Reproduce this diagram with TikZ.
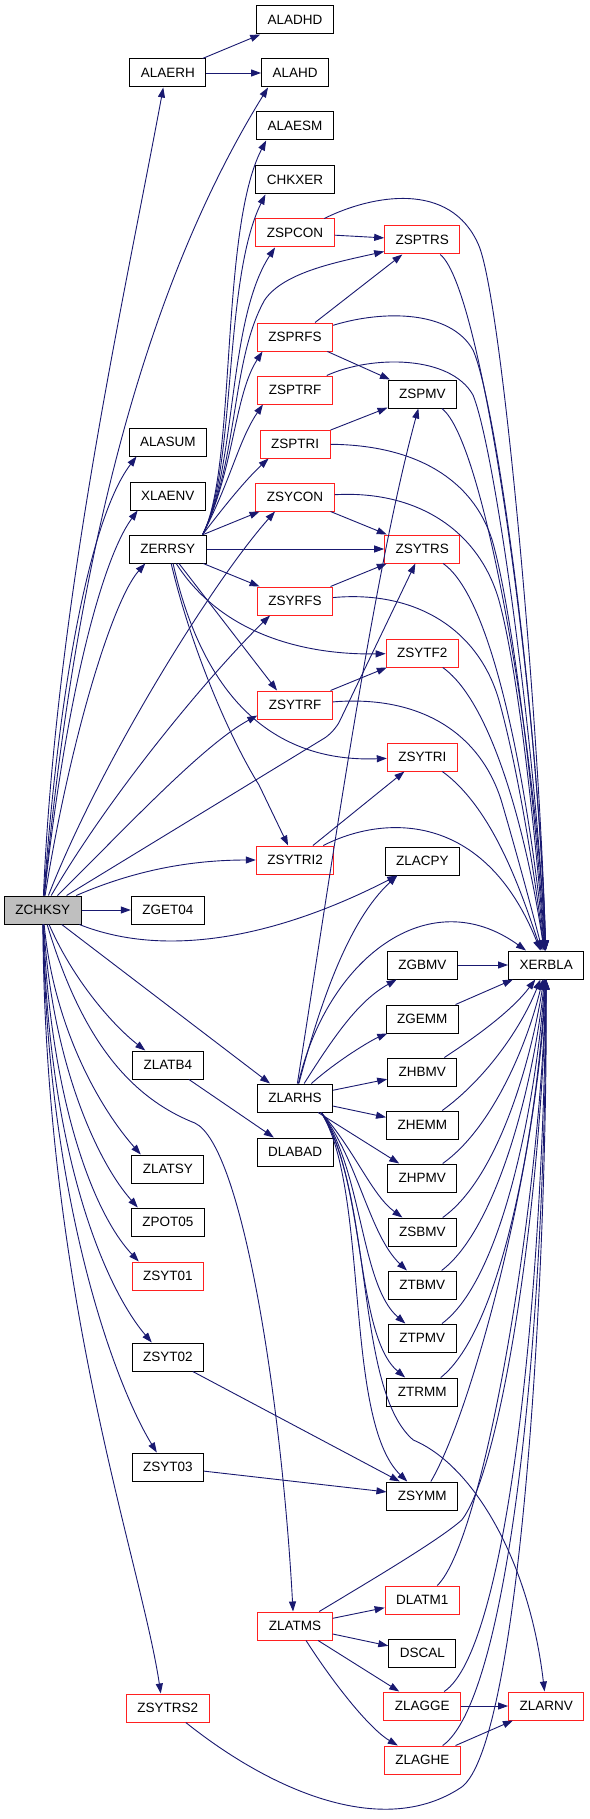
\documentclass[tikz,border=0pt]{standalone}
\usepackage{fontspec}
\setmainfont{Liberation Sans}
\usetikzlibrary{arrows.meta}
\definecolor{edgec}{HTML}{191970}
\definecolor{rootfill}{HTML}{BFBFBF}
\definecolor{boxred}{HTML}{FF2020}
\begin{document}
\begin{tikzpicture}[x=1.12613pt,y=-1pt,
  box/.style={draw=black, fill=white, line width=1pt, minimum height=28pt,
    inner xsep=11pt, inner ysep=0pt, font=\fontsize{13.5}{14}\selectfont, text=black},
  rbox/.style={box, draw=boxred},
  arr/.style={draw=edgec, line width=0.9pt, -{Triangle[length=10pt,width=7pt]}}]
\useasboundingbox (0,0) rectangle (523.03,1819);
\fill[white] (0,0) rectangle (523.03,1819);

% nodes
\node[box] (ALADHD) at (262,20) {ALADHD};
\node[box] (ALAERH) at (149,73) {ALAERH};
\node[box] (ALAHD) at (262,73) {ALAHD};
\node[box] (ALAESM) at (262,126) {ALAESM};
\node[box] (CHKXER) at (262,180) {CHKXER};
\node[rbox] (ZSPCON) at (262,233) {ZSPCON};
\node[rbox] (ZSPTRS) at (375,240) {ZSPTRS};
\node[rbox] (ZSPRFS) at (262,337) {ZSPRFS};
\node[rbox] (ZSPTRF) at (262,390) {ZSPTRF};
\node[box] (ZSPMV) at (375,394) {ZSPMV};
\node[rbox] (ZSPTRI) at (262,444) {ZSPTRI};
\node[box] (ALASUM) at (149,442) {ALASUM};
\node[box] (XLAENV) at (149,496) {XLAENV};
\node[rbox] (ZSYCON) at (262,497) {ZSYCON};
\node[box] (ZERRSY) at (149,549) {ZERRSY};
\node[rbox] (ZSYTRS) at (375,549) {ZSYTRS};
\node[rbox] (ZSYRFS) at (262,601) {ZSYRFS};
\node[rbox] (ZSYTF2) at (375,653) {ZSYTF2};
\node[rbox] (ZSYTRF) at (262,705) {ZSYTRF};
\node[rbox] (ZSYTRI) at (375,757) {ZSYTRI};
\node[rbox] (ZSYTRI2) at (262,860) {ZSYTRI2};
\node[box] (ZLACPY) at (375,861) {ZLACPY};
\node[box, fill=rootfill] (ZCHKSY) at (38,910) {ZCHKSY};
\node[box] (ZGET04) at (149,910) {ZGET04};
\node[box] (XERBLA) at (485,965) {XERBLA};
\node[box] (ZGBMV) at (375,965) {ZGBMV};
\node[box] (ZGEMM) at (375,1019) {ZGEMM};
\node[box] (ZLATB4) at (149,1065) {ZLATB4};
\node[box] (ZHBMV) at (375,1072) {ZHBMV};
\node[box] (ZLARHS) at (262,1098) {ZLARHS};
\node[box] (ZHEMM) at (375,1125) {ZHEMM};
\node[box] (DLABAD) at (262,1152) {DLABAD};
\node[box] (ZLATSY) at (149,1169) {ZLATSY};
\node[box] (ZHPMV) at (375,1178) {ZHPMV};
\node[box] (ZPOT05) at (149,1222) {ZPOT05};
\node[box] (ZSBMV) at (375,1232) {ZSBMV};
\node[rbox] (ZSYT01) at (149,1276) {ZSYT01};
\node[box] (ZTBMV) at (375,1285) {ZTBMV};
\node[box] (ZTPMV) at (375,1338) {ZTPMV};
\node[box] (ZSYT02) at (149,1357) {ZSYT02};
\node[box] (ZTRMM) at (375,1392) {ZTRMM};
\node[box] (ZSYT03) at (149,1467) {ZSYT03};
\node[box] (ZSYMM) at (375,1496) {ZSYMM};
\node[rbox] (DLATM1) at (375,1600) {DLATM1};
\node[rbox] (ZLATMS) at (262,1626) {ZLATMS};
\node[box] (DSCAL) at (375,1653) {DSCAL};
\node[rbox] (ZLAGGE) at (375,1706) {ZLAGGE};
\node[rbox] (ZLARNV) at (485,1706) {ZLARNV};
\node[rbox] (ZSYTRS2) at (149,1708) {ZSYTRS2};
\node[rbox] (ZLAGHE) at (375,1760) {ZLAGHE};

\coordinate (ERup) at ([xshift=-4pt]ZERRSY.north east);
\coordinate (LRdn) at ([xshift=-12pt]ZLARHS.south east);

% ALAERH
\draw[arr] (ALAERH) -- (ALADHD);
\draw[arr] (ALAERH) -- (ALAHD);

% ZCHKSY
\draw[arr] (ZCHKSY) .. controls (50,600) and (110,300) .. ([xshift=-4.5pt]ALAERH.south);
\draw[arr] (ZCHKSY) .. controls (60,650) and (105,330) .. ([xshift=7pt]ALAHD.south west);
\draw[arr] (ZCHKSY) .. controls (55,650) and (85,510) .. ([xshift=8pt]ALASUM.south west);
\draw[arr] (ZCHKSY) .. controls (58,700) and (90,560) .. ([xshift=8pt]XLAENV.south west);
\draw[arr] (ZCHKSY) .. controls (62,740) and (100,600) .. ([xshift=-22.5pt]ZERRSY.south);
\draw[arr] (ZCHKSY) .. controls (90,760) and (190,580) .. ([xshift=-20pt]ZSYCON.south);
\draw[arr] (ZCHKSY) .. controls (100,790) and (190,670) .. ([xshift=-25pt]ZSYRFS.south);
\draw[arr] (ZCHKSY) .. controls (110,830) and (180,745) .. ([yshift=4pt]ZSYTRF.south west);
\draw[arr, rounded corners=12pt] (ZCHKSY) -- (297,732) -- (ZSYTRS);
\draw[arr] (ZCHKSY) .. controls (120,870) and (170,860) .. (ZSYTRI2);
\draw[arr] (ZCHKSY) -- (ZGET04);
\draw[arr] (ZCHKSY) .. controls (150,960) and (250,935) .. ([xshift=-25pt]ZLACPY.south);
\draw[arr] (ZCHKSY) -- ([xshift=-25pt]ZLARHS.north);
\draw[arr] (ZCHKSY) .. controls (65,980) and (100,1025) .. ([xshift=-22.5pt]ZLATB4.north);
\draw[arr] (ZCHKSY) .. controls (48,1030) and (90,1110) .. ([xshift=-27pt]ZLATSY.north);
\draw[arr] (ZCHKSY) .. controls (46,1060) and (85,1160) .. ([xshift=-30pt]ZPOT05.north);
\draw[arr] (ZCHKSY) .. controls (44,1090) and (80,1210) .. ([xshift=-29pt]ZSYT01.north);
\draw[arr] (ZCHKSY) .. controls (43,1160) and (95,1290) .. ([xshift=-16pt]ZSYT02.north);
\draw[arr] (ZCHKSY) .. controls (42,1210) and (105,1390) .. ([xshift=-11pt]ZSYT03.north);
\draw[arr] (ZCHKSY) .. controls (40,1300) and (125,1560) .. ([xshift=-7pt]ZSYTRS2.north);
\draw[arr] (ZCHKSY) .. controls (70,1030) and (110,1095) .. (173,1123)
  .. controls (215,1145) and (250,1400) .. ([xshift=-2pt]ZLATMS.north);

% ZERRSY
\draw[arr] (ERup) .. controls (210,470) and (195,230) .. ([xshift=10pt]ALAESM.south west);
\draw[arr] (ERup) .. controls (210,470) and (198,280) .. ([xshift=10pt]CHKXER.south west);
\draw[arr] (ERup) .. controls (210,470) and (202,320) .. ([xshift=-20pt]ZSPCON.south);
\draw[arr] (ERup) .. controls (212,460) and (205,360) .. (235,300)
  .. controls (252,272) and (300,262) .. ([yshift=3pt]ZSPTRS.south west);
\draw[arr] (ERup) .. controls (208,470) and (208,395) .. ([xshift=5.6pt]ZSPRFS.south west);
\draw[arr] (ERup) .. controls (205,480) and (212,440) .. ([xshift=5.6pt]ZSPTRF.south west);
\draw[arr] (ERup) .. controls (200,505) and (218,480) .. ([xshift=9pt]ZSPTRI.south west);
\draw[arr] (ZERRSY) -- (ZSYCON);
\draw[arr] (ZERRSY) -- (ZSYTRS);
\draw[arr] (ZERRSY) -- (ZSYRFS);
\draw[arr] (ZERRSY.-60) .. controls (200,640) and (280,655) .. (ZSYTF2);
\draw[arr] (ZERRSY) -- ([xshift=-18pt]ZSYTRF.north);
\draw[arr] (ZERRSY.-70) .. controls (185,720) and (260,762) .. (ZSYTRI);
\draw[arr] (ZERRSY) .. controls (170,650) and (205,740) .. (230,785) -- (ZSYTRI2);

% SP family
\draw[arr] (ZSPCON) -- (ZSPTRS);
\draw[arr] (ZSPCON) .. controls (330,195) and (400,180) .. (425,245)
  .. controls (445,297) and (478,700) .. (XERBLA);
\draw[arr] (ZSPTRS) .. controls (430,290) and (478,700) .. (XERBLA);
\draw[arr] ([xshift=20pt]ZSPRFS.north) -- ([xshift=-20pt]ZSPTRS.south);
\draw[arr] (ZSPRFS) -- (ZSPMV);
\draw[arr] (ZSPRFS) .. controls (340,310) and (400,310) .. (420,350)
  .. controls (440,400) and (477,700) .. (XERBLA);
\draw[arr] (ZSPTRF) .. controls (330,355) and (400,355) .. (420,395)
  .. controls (440,450) and (476,750) .. (XERBLA);
\draw[arr] (ZSPMV) .. controls (430,440) and (476,750) .. (XERBLA);
\draw[arr] (ZSPTRI) -- (ZSPMV);
\draw[arr] (ZSPTRI) .. controls (370,445) and (420,480) .. (437,540)
  .. controls (455,610) and (475,800) .. (XERBLA);

% SY family
\draw[arr] (ZSYCON) -- (ZSYTRS);
\draw[arr] (ZSYCON) .. controls (370,490) and (425,530) .. (443,600)
  .. controls (460,670) and (474,820) .. (XERBLA);
\draw[arr] (ZSYTRS) .. controls (440,600) and (470,800) .. (XERBLA);
\draw[arr] (ZSYRFS) -- (ZSYTRS);
\draw[arr] (ZSYRFS) .. controls (370,590) and (425,630) .. (443,700)
  .. controls (458,760) and (473,860) .. (XERBLA);
\draw[arr] (ZSYTF2) .. controls (440,705) and (470,850) .. (XERBLA);
\draw[arr] (ZSYTRF) -- (ZSYTF2);
\draw[arr] (ZSYTRF) .. controls (370,695) and (425,730) .. (445,800)
  .. controls (458,850) and (470,900) .. (XERBLA);
\draw[arr] (ZSYTRI) .. controls (440,810) and (465,900) .. (XERBLA);
\draw[arr] (ZSYTRI2) -- (ZSYTRI);
\draw[arr] (ZSYTRI2) .. controls (340,815) and (430,810) .. (XERBLA);

% ZLARHS
\draw[arr] (ZLARHS) .. controls (290,900) and (330,580) .. (ZSPMV);
\draw[arr] (ZLARHS) .. controls (285,1000) and (310,920) .. ([xshift=-25pt]ZLACPY.south);
\draw[arr] (ZLARHS) .. controls (290,960) and (380,880) .. (XERBLA);
\draw[arr] (ZLARHS) .. controls (300,1030) and (320,1000) .. (ZGBMV);
\draw[arr] (ZLARHS) .. controls (300,1060) and (330,1040) .. (ZGEMM);
\draw[arr] (ZLARHS) -- (ZHBMV);
\draw[arr] (ZLARHS) -- (ZHEMM);
\draw[arr] (ZLARHS) -- (ZHPMV);
\draw[arr] (LRdn) .. controls (315,1150) and (330,1195) .. (ZSBMV);
\draw[arr] (LRdn) .. controls (318,1160) and (328,1235) .. (ZTBMV);
\draw[arr] (LRdn) .. controls (322,1170) and (320,1285) .. (ZTPMV);
\draw[arr] (LRdn) .. controls (325,1180) and (315,1335) .. (ZTRMM);
\draw[arr] (LRdn) .. controls (328,1190) and (305,1420) .. (ZSYMM);
\draw[arr] (LRdn) .. controls (332,1195) and (315,1390) .. (367,1440)
  .. controls (420,1465) and (470,1560) .. (ZLARNV);

\draw[arr] (ZLATB4) -- (DLABAD);

% into XERBLA from below
\draw[arr] (ZGBMV) -- (XERBLA);
\draw[arr] (ZGEMM) -- (XERBLA);
\draw[arr] (ZHBMV) .. controls (425,1035) and (455,1010) .. (XERBLA);
\draw[arr] (ZHEMM) .. controls (430,1080) and (462,1030) .. (XERBLA);
\draw[arr] (ZHPMV) .. controls (435,1130) and (467,1050) .. (XERBLA);
\draw[arr] (ZSBMV) .. controls (440,1180) and (470,1070) .. (XERBLA);
\draw[arr] (ZTBMV) .. controls (440,1230) and (473,1090) .. (XERBLA);
\draw[arr] (ZTPMV) .. controls (445,1280) and (475,1110) .. (XERBLA);
\draw[arr] (ZTRMM) .. controls (445,1330) and (477,1130) .. (XERBLA);
\draw[arr] (ZSYMM) .. controls (420,1410) and (478,1160) .. (XERBLA);
\draw[arr] (DLATM1) .. controls (430,1540) and (480,1200) .. (XERBLA);
\draw[arr] (ZLATMS) .. controls (330,1580) and (390,1540) .. (410,1520)
  .. controls (445,1470) and (481,1200) .. (XERBLA);
\draw[arr] (ZLAGGE) .. controls (450,1650) and (482,1300) .. (XERBLA);
\draw[arr] (ZLAGHE) .. controls (450,1700) and (484,1350) .. (XERBLA);
\draw[arr] ([xshift=18pt]ZSYTRS2.south) .. controls (240,1790) and (340,1840) .. (410,1787)
  .. controls (460,1745) and (486,1300) .. (XERBLA);

% ZSYT02/03
\draw[arr] ([xshift=25pt]ZSYT02.south) -- ([xshift=-22.5pt]ZSYMM.north);
\draw[arr] (ZSYT03) -- (ZSYMM);

% ZLATMS
\draw[arr] (ZLATMS) -- (DLATM1);
\draw[arr] (ZLATMS) -- (DSCAL);
\draw[arr] (ZLATMS) -- (ZLAGGE);
\draw[arr] ([xshift=11pt]ZLATMS.south) .. controls (300,1690) and (330,1730) .. (ZLAGHE);
\draw[arr] (ZLAGGE) -- (ZLARNV);
\draw[arr] (ZLAGHE) -- (ZLARNV);
\end{tikzpicture}
\end{document}
